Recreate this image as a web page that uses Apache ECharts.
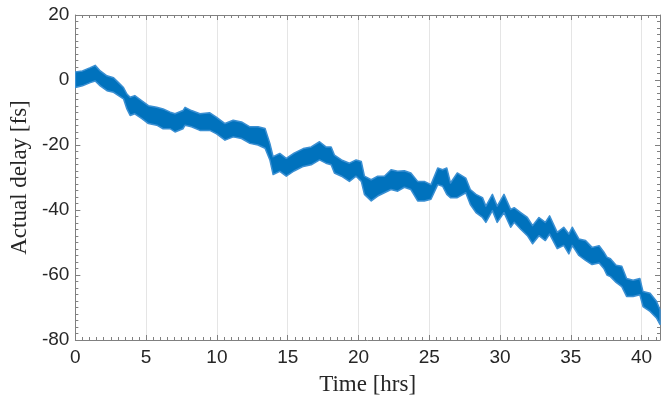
<!DOCTYPE html>
<html>
<head>
<meta charset="utf-8">
<script src="https://cdn.jsdelivr.net/npm/echarts@6/dist/echarts.min.js"></script>
<style>
html,body{margin:0;padding:0;background:#fff;}
#chart{width:663px;height:401px;}
</style>
</head>
<body>
<div id="chart"></div>
<script>
// Time samples [hrs] where the noisy trace envelope was read
const timeHrs = [0.0,0.5,1.05,1.4,1.76,2.23,2.7,3.05,3.4,3.64,3.87,4.2,4.7,5.16,5.75,6.2,6.7,7.04,7.6,7.75,8.2,8.8,9.5,9.98,10.57,11.15,11.74,12.33,12.9,13.4,13.74,13.97,14.44,14.9,15.45,16.1,16.66,17.25,17.7,18.07,18.3,18.8,19.36,19.83,20.2,20.42,20.9,21.36,21.83,22.3,22.77,23.24,23.7,24.18,24.65,25.12,25.6,25.94,26.24,26.5,26.98,27.58,27.9,28.3,28.76,29.0,29.46,29.8,30.28,30.75,31.0,31.46,31.93,32.3,32.75,33.2,33.5,34.04,34.5,34.86,35.1,35.57,36.04,36.5,37.0,37.33,37.55,37.8,38.2,38.6,38.94,39.4,39.88,40.1,40.6,41.05,41.3];
// Upper edge of the trace [fs]
const upperFs = [2.5,2.8,3.8,4.5,2.8,1.3,0.7,-0.8,-2.3,-4.3,-5.3,-4.8,-6.4,-7.9,-8.4,-8.9,-9.9,-10.4,-9.4,-8.4,-9.4,-10.4,-10.1,-11.5,-13.4,-12.4,-12.9,-14.4,-14.4,-14.9,-19.5,-23.6,-22.6,-24.1,-22.5,-21.1,-20.6,-19.0,-20.6,-20.6,-23.1,-24.6,-25.6,-24.6,-25.1,-29.6,-30.7,-29.6,-29.6,-27.6,-28.1,-27.9,-28.6,-31.2,-31.2,-32.2,-27.1,-27.6,-27.1,-31.7,-28.6,-30.2,-33.7,-35.2,-36.2,-38.8,-35.2,-38.8,-35.2,-39.8,-39.3,-40.8,-42.3,-44.8,-42.3,-43.8,-41.8,-46.9,-45.3,-47.4,-45.3,-48.9,-49.4,-51.5,-51.0,-52.9,-54.5,-55.0,-57.0,-57.3,-61.1,-61.6,-61.1,-65.1,-65.6,-68.1,-70.7];
// Lower edge of the trace [fs]
const lowerFs = [-2.3,-1.8,-0.8,-0.3,-1.8,-3.3,-3.8,-4.8,-5.8,-8.9,-10.9,-10.4,-11.9,-13.4,-13.9,-15.0,-15.0,-16.0,-15.0,-13.9,-14.4,-15.5,-15.5,-16.6,-18.5,-17.5,-18.0,-19.5,-20.0,-21.0,-24.6,-29.1,-28.1,-29.6,-28.0,-26.6,-26.1,-24.6,-25.6,-26.1,-28.6,-29.6,-31.2,-29.6,-31.2,-35.2,-37.2,-35.7,-34.7,-33.7,-34.2,-33.0,-33.7,-37.2,-37.2,-36.7,-32.2,-32.7,-35.2,-36.2,-36.2,-34.7,-38.3,-40.8,-42.3,-43.8,-40.2,-43.8,-40.8,-45.3,-43.8,-45.9,-47.9,-50.4,-47.9,-49.4,-47.4,-51.9,-50.9,-53.5,-50.9,-54.0,-55.5,-56.8,-56.3,-58.0,-60.0,-60.5,-62.3,-63.6,-66.6,-66.6,-66.1,-69.7,-71.2,-73.2,-75.2];

const xTicks = [0,5,10,15,20,25,30,35,40];
const yTicks = [-80,-60,-40,-20,0,20];

const axisGray = '#808080';
const textCol = '#262626';
const sansFont = 'Liberation Sans';
const serifFont = 'Liberation Serif';

const chart = echarts.init(document.getElementById('chart'), null, {renderer:'canvas'});

const baseX = {
  type:'value', min:0, max:41.3, interval:5,
  axisLine:{show:true, onZero:false, lineStyle:{color:axisGray, width:1}},
  axisTick:{show:true, inside:true, length:5, lineStyle:{color:axisGray}},
  minorTick:{show:true, splitNumber:10, length:3, lineStyle:{color:axisGray}},
};
const baseY = {
  type:'value', min:-80, max:20, interval:20,
  axisLine:{show:true, onZero:false, lineStyle:{color:axisGray, width:1}},
  axisTick:{show:true, inside:true, length:5, lineStyle:{color:axisGray}},
  minorTick:{show:true, splitNumber:10, length:3, lineStyle:{color:axisGray}},
};

chart.setOption({
  animation:false,
  backgroundColor:'#ffffff',
  grid:{left:75, right:1, top:15, bottom:56, containLabel:false},
  xAxis:[
    Object.assign({}, baseX, {
      position:'bottom',
      splitLine:{show:true, lineStyle:{color:'#e5e5e5', width:1}},
      axisLabel:{show:true, fontSize:19, color:textCol, fontFamily:sansFont, margin:8,
        formatter:v => xTicks.indexOf(v) >= 0 ? String(v) : ''},
      name:'Time [hrs]', nameLocation:'middle', nameGap:33,
      nameTextStyle:{fontFamily:serifFont, fontSize:23, color:textCol}
    }),
    Object.assign({}, baseX, {
      position:'top',
      splitLine:{show:false},
      axisLabel:{show:false}
    })
  ],
  yAxis:[
    Object.assign({}, baseY, {
      position:'left',
      splitLine:{show:false},
      axisLabel:{show:true, fontSize:19, color:textCol, fontFamily:sansFont, margin:6,
        formatter:v => yTicks.indexOf(v) >= 0 ? String(v) : ''},
      name:'Actual delay [fs]', nameLocation:'middle', nameGap:44, nameRotate:90,
      nameTextStyle:{fontFamily:serifFont, fontSize:23, color:textCol}
    }),
    Object.assign({}, baseY, {
      position:'right',
      splitLine:{show:false},
      axisLabel:{show:false}
    })
  ],
  series:[{
    type:'custom',
    xAxisIndex:0, yAxisIndex:0,
    clip:true,
    data:[[0,0]],
    renderItem:function(params, api){
      const pts = [];
      for (let i = 0; i < timeHrs.length; i++) pts.push(api.coord([timeHrs[i], upperFs[i]]));
      for (let i = timeHrs.length - 1; i >= 0; i--) pts.push(api.coord([timeHrs[i], lowerFs[i]]));
      return {
        type:'polygon',
        shape:{points:pts},
        style:{fill:'#0072BD', stroke:'#3a8fd2', lineWidth:1.5, lineJoin:'round'}
      };
    },
    silent:true
  }]
});
</script>
</body>
</html>
